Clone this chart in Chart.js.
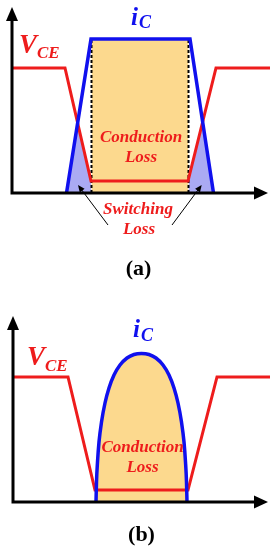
<!DOCTYPE html>
<html>
<head>
<meta charset="utf-8">
<script src="https://cdn.jsdelivr.net/npm/chart.js@4.4.0/dist/chart.umd.min.js"></script>
<style>
    html, body { margin: 0; padding: 0; background: #fff; }
    canvas { display: block; }
</style>
</head>
<body>
<canvas id="chartA" width="276" height="280"></canvas>
<canvas id="chartB" width="276" height="270"></canvas>
<script>
// time runs from the y axis, level is measured up from the x axis

// (a) hard switching
const vceTimeA = [0, 53, 79, 176, 204, 258];
const vceLevelA = [125, 125, 12, 12, 125, 125];
const icTimeA = [54.5, 79, 178, 201.5];
const icLevelA = [0, 154, 154, 0];
const condTimeA = [79.5, 176.5];
const condLevelA = [154, 154];
const swOnTimeA = [54.5, 65.6, 79, 79.5];
const swOnLevelA = [0, 70, 12, 12];
const swOffTimeA = [176.5, 190.6, 201.5];
const swOffLevelA = [12, 71, 0];
const edgeTimesA = [79.5, 176.5];

// (b) soft switching
const vceTimeB = [0, 55, 82, 175, 204, 257];
const vceLevelB = [125, 125, 12, 12, 125, 125];
const icTimeB = [83, 83.5, 84.5, 86, 88.5, 92, 96, 101, 107, 114, 121, 128.5,
                 136, 143, 150, 156, 161, 165, 168.5, 171, 172.5, 173.5, 174];
const icLevelB = [0, 20, 40, 60, 80, 99, 114, 127, 137, 144, 147.5, 148.5,
                  147.5, 144, 137, 127, 114, 99, 80, 60, 40, 20, 0];

const RED = '#ee1c1c';
const BLUE = '#1010ee';
const TAN = '#fcd98e';
const LAVENDER = '#aaaaf3';
const FONT = '"Liberation Serif", "Times New Roman", serif';

const pts = (ts, vs) => ts.map((t, i) => ({x: t, y: vs[i]}));

const line = (data, color, width, order, extra) => Object.assign({
    data: data,
    borderColor: color,
    borderWidth: width,
    fill: false,
    clip: false,
    order: order
}, extra || {});

const area = (data, color, order, extra) => Object.assign({
    data: data,
    borderWidth: 0,
    borderColor: 'rgba(0,0,0,0)',
    backgroundColor: color,
    fill: 'origin',
    clip: false,
    order: order
}, extra || {});

const drawLabel = (ctx, chart, lb) => {
    const px = chart.scales.x.getPixelForValue(lb.t);
    const py = chart.scales.y.getPixelForValue(lb.v);
    ctx.fillStyle = lb.color;
    ctx.font = `${lb.style} ${lb.size}px ${FONT}`;
    ctx.textAlign = lb.align || 'left';
    ctx.textBaseline = lb.baseline || 'alphabetic';
    ctx.fillText(lb.text, px, py);
    if (lb.sub) {
        const w = ctx.measureText(lb.text).width;
        ctx.font = `${lb.style} ${lb.subSize}px ${FONT}`;
        ctx.fillText(lb.sub, px + w + lb.subGap, py + lb.subDrop);
    }
};

const arrowHead = (ctx, x1, y1, x2, y2, len, half) => {
    const a = Math.atan2(y2 - y1, x2 - x1);
    ctx.beginPath();
    ctx.moveTo(x2, y2);
    ctx.lineTo(x2 - len * Math.cos(a) + half * Math.sin(a), y2 - len * Math.sin(a) - half * Math.cos(a));
    ctx.lineTo(x2 - len * Math.cos(a) - half * Math.sin(a), y2 - len * Math.sin(a) + half * Math.cos(a));
    ctx.closePath();
    ctx.fill();
};

// axes with arrow tips, text labels and pointer arrows
const sketchPlugin = {
    id: 'sketch',
    afterDatasetsDraw(chart, args, opts) {
        const {ctx} = chart;
        const {x, y} = chart.scales;
        const x0 = x.getPixelForValue(0);
        const y0 = y.getPixelForValue(0);
        const xTip = x.getPixelForValue(opts.tip[0]);
        const yTip = y.getPixelForValue(opts.tip[1]);
        ctx.save();
        ctx.strokeStyle = '#000';
        ctx.fillStyle = '#000';
        ctx.lineWidth = 3;
        ctx.beginPath();
        ctx.moveTo(x0, y0 + 1.5);
        ctx.lineTo(x0, yTip + 8);
        ctx.moveTo(x0 - 1.5, y0);
        ctx.lineTo(xTip - 8, y0);
        ctx.stroke();
        arrowHead(ctx, x0, y0, x0, yTip, 14, 6);
        arrowHead(ctx, x0, y0, xTip, y0, 14, 6.5);

        ctx.lineWidth = 1;
        (opts.pointers || []).forEach(p => {
            const ax = x.getPixelForValue(p[0]), ay = y.getPixelForValue(p[1]);
            const bx = x.getPixelForValue(p[2]), by = y.getPixelForValue(p[3]);
            const a = Math.atan2(by - ay, bx - ax);
            ctx.beginPath();
            ctx.moveTo(ax, ay);
            ctx.lineTo(bx - 5 * Math.cos(a), by - 5 * Math.sin(a));
            ctx.stroke();
            arrowHead(ctx, ax, ay, bx, by, 7, 3);
        });

        opts.labels.forEach(lb => drawLabel(ctx, chart, lb));
        ctx.restore();
    }
};

const baseOptions = (padding, xMax, yMax, yMin, sketch) => ({
    responsive: false,
    animation: false,
    devicePixelRatio: 1,
    layout: {padding: padding},
    scales: {
        x: {type: 'linear', min: 0, max: xMax, display: false},
        y: {type: 'linear', min: yMin, max: yMax, display: false}
    },
    elements: {point: {radius: 0}, line: {tension: 0}},
    plugins: {legend: {display: false}, tooltip: {enabled: false}, sketch: sketch}
});

const dashed = t => line(pts([t, t], [0, 154]), '#000', 2, 3, {borderDash: [3, 2]});

new Chart(document.getElementById('chartA'), {
    type: 'line',
    data: {
        datasets: [
            line(pts(icTimeA, icLevelA), BLUE, 3.5, 1),
            line(pts(vceTimeA, vceLevelA), RED, 3, 2),
            ...edgeTimesA.map(dashed),
            area(pts(condTimeA, condLevelA), TAN, 5),
            area(pts(swOnTimeA, swOnLevelA), LAVENDER, 6),
            area(pts(swOffTimeA, swOffLevelA), LAVENDER, 6)
        ]
    },
    options: baseOptions({left: 12, top: 5, right: 6, bottom: 87}, 258, 188, 0, {
        tip: [256, 186],
        pointers: [[96, -32, 66, 8], [160, -32, 189.7, 8]],
        labels: [
            {text: 'V', sub: 'CE', t: 7, v: 140, style: 'italic bold', size: 27, subSize: 17, subGap: 0, subDrop: 5, color: RED},
            {text: 'i', sub: 'C', t: 119, v: 168, style: 'italic bold', size: 25, subSize: 18, subGap: 1, subDrop: 3, color: BLUE},
            {text: 'Conduction', t: 129, v: 55.5, style: 'italic bold', size: 17, align: 'center', baseline: 'middle', color: RED},
            {text: 'Loss', t: 129, v: 35, style: 'italic bold', size: 17, align: 'center', baseline: 'middle', color: RED},
            {text: 'Switching', t: 126, v: -17, style: 'italic bold', size: 17, align: 'center', baseline: 'middle', color: RED},
            {text: 'Loss', t: 127, v: -37, style: 'italic bold', size: 17, align: 'center', baseline: 'middle', color: RED},
            {text: '(a)', t: 126.5, v: -76, style: 'bold', size: 22, align: 'center', baseline: 'middle', color: '#000'}
        ]
    }),
    plugins: [sketchPlugin]
});

new Chart(document.getElementById('chartB'), {
    type: 'line',
    data: {
        datasets: [
            line(pts(icTimeB, icLevelB), BLUE, 3.5, 1, {cubicInterpolationMode: 'monotone'}),
            line(pts(vceTimeB, vceLevelB), RED, 3, 2),
            area(pts(icTimeB, icLevelB), TAN, 5, {cubicInterpolationMode: 'monotone'})
        ]
    },
    options: baseOptions({left: 13, top: 35, right: 6, bottom: 48}, 257, 187, 0, {
        tip: [255, 186],
        labels: [
            {text: 'V', sub: 'CE', t: 14, v: 137, style: 'italic bold', size: 27, subSize: 17, subGap: 0, subDrop: 6, color: RED},
            {text: 'i', sub: 'C', t: 120, v: 165, style: 'italic bold', size: 25, subSize: 18, subGap: 1, subDrop: 4, color: BLUE},
            {text: 'Conduction', t: 129.5, v: 54.5, style: 'italic bold', size: 17, align: 'center', baseline: 'middle', color: RED},
            {text: 'Loss', t: 129.5, v: 34.5, style: 'italic bold', size: 17, align: 'center', baseline: 'middle', color: RED},
            {text: '(b)', t: 128.5, v: -33, style: 'bold', size: 22, align: 'center', baseline: 'middle', color: '#000'}
        ]
    }),
    plugins: [sketchPlugin]
});
</script>
</body>
</html>
